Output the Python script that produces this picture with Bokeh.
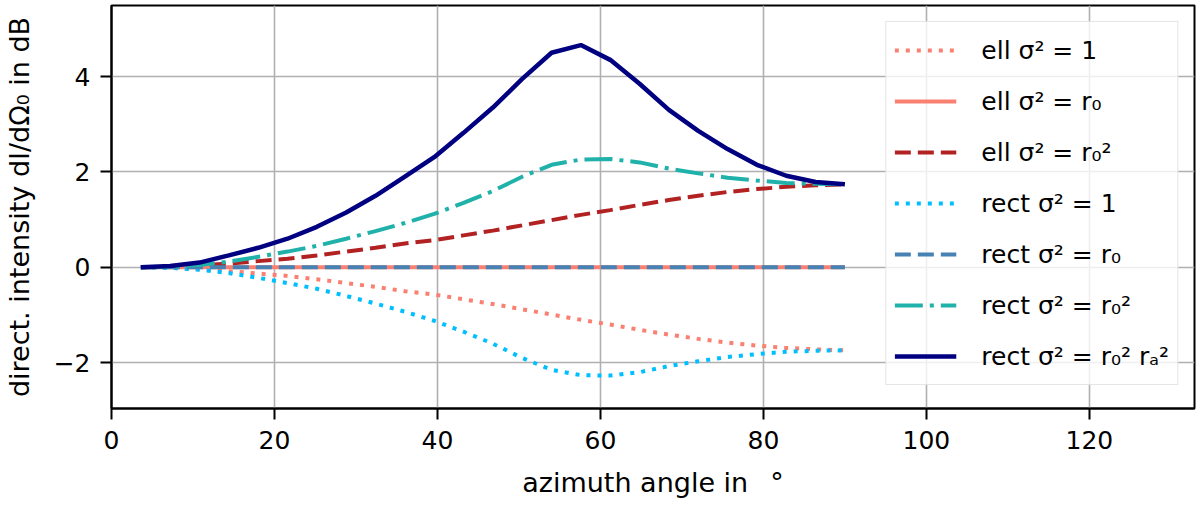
from bokeh.plotting import figure
from bokeh.models import Range1d, FixedTicker, Legend, LegendItem
from bokeh.embed import file_html
from bokeh.resources import INLINE

angle = [3.6, 7.2, 10.8, 14.4, 18.0, 21.6, 25.2, 28.8, 32.4, 36.0, 39.6, 43.2, 46.8,
         50.4, 54.0, 57.6, 61.2, 64.8, 68.4, 72.0, 75.6, 79.2, 82.8, 86.4, 90.0]

ell_one = [0.0, -0.01, -0.04, -0.08, -0.13, -0.18, -0.25, -0.33, -0.41, -0.50, -0.57, -0.67, -0.77,
           -0.88, -0.99, -1.10, -1.20, -1.31, -1.41, -1.50, -1.58, -1.64, -1.69, -1.72, -1.74]
ell_r0 = [0.0] * 25
ell_r0sq = [0.0, 0.01, 0.04, 0.08, 0.13, 0.18, 0.25, 0.33, 0.41, 0.50, 0.57, 0.67, 0.77,
            0.88, 0.99, 1.10, 1.20, 1.31, 1.41, 1.50, 1.58, 1.64, 1.69, 1.72, 1.74]
rect_one = [0.0, -0.01, -0.05, -0.12, -0.22, -0.33, -0.45, -0.60, -0.76, -0.93, -1.12, -1.35, -1.60,
            -1.90, -2.15, -2.26, -2.27, -2.20, -2.07, -1.97, -1.88, -1.82, -1.77, -1.75, -1.74]
rect_r0 = [0.0] * 25
rect_r0sq = [0.0, 0.01, 0.05, 0.12, 0.22, 0.33, 0.45, 0.60, 0.76, 0.93, 1.12, 1.35, 1.60,
             1.90, 2.15, 2.26, 2.27, 2.20, 2.07, 1.97, 1.88, 1.82, 1.77, 1.75, 1.74]
rect_r0ra = [0.0, 0.03, 0.10, 0.25, 0.41, 0.60, 0.85, 1.15, 1.50, 1.90, 2.31, 2.82, 3.35,
             3.95, 4.50, 4.66, 4.35, 3.85, 3.30, 2.86, 2.48, 2.15, 1.92, 1.79, 1.74]

labels = ["ell σ² = 1", "ell σ² = r₀", "ell σ² = r₀²", "rect σ² = 1",
          "rect σ² = r₀", "rect σ² = r₀²", "rect σ² = r₀² rₐ²"]
x_ticks = [0, 20, 40, 60, 80, 100, 120]
y_ticks = [-2, 0, 2, 4]

FONT = "DejaVu Sans"

p = figure(width=1196, height=506, output_backend="svg", toolbar_location=None,
           x_range=Range1d(0, 132.9), y_range=Range1d(-2.96, 5.49),
           min_border_left=111, min_border_right=2, min_border_top=5, min_border_bottom=98)
p.background_fill_color = "white"
p.outline_line_color = "black"
p.outline_line_width = 2

series = [
    (ell_one, "#FA8072", "4 7", 4),
    (ell_r0, "#FA8072", "solid", 4),
    (ell_r0sq, "#B22222", "16 7", 4),
    (rect_one, "#00BFFF", "4 7", 4),
    (rect_r0, "#4682B4", "16 7", 4),
    (rect_r0sq, "#20B2AA", "28 7 4 7", 4),
    (rect_r0ra, "#000080", "solid", 4.5),
]
items = []
for (ys, col, dash, lw), lab in zip(series, labels):
    r = p.line(angle, ys, line_color=col, line_width=lw, line_dash=dash, line_cap="butt")
    items.append(LegendItem(label=lab, renderers=[r]))

for ax in (p.xaxis[0], p.yaxis[0]):
    ax.axis_line_color = "black"
    ax.axis_line_width = 2
    ax.major_tick_line_color = "black"
    ax.major_tick_line_width = 2
    ax.major_tick_out = 11
    ax.major_tick_in = 0
    ax.minor_tick_line_color = None
    ax.major_label_text_font = FONT
    ax.major_label_text_font_size = "25px"
    ax.major_label_text_color = "black"
    ax.axis_label_text_font = FONT
    ax.axis_label_text_font_size = "27px"
    ax.axis_label_text_font_style = "normal"
    ax.axis_label_text_color = "black"

p.xaxis.ticker = FixedTicker(ticks=x_ticks)
p.yaxis.ticker = FixedTicker(ticks=y_ticks)
p.xaxis.major_label_standoff = 11
p.yaxis.major_label_standoff = 10
p.xaxis.axis_label = "azimuth angle in \u2002°"
p.yaxis.axis_label = "direct. intensity dI/dΩ₀ in dB"
p.xaxis.axis_label_standoff = 15
p.yaxis.axis_label_standoff = 16

p.xgrid.ticker = FixedTicker(ticks=x_ticks)
p.ygrid.ticker = FixedTicker(ticks=y_ticks)
p.grid.grid_line_color = "#b0b0b0"
p.grid.grid_line_width = 1.6

legend = Legend(items=items, location="top_right")
legend.margin = 16
legend.padding = 8
legend.spacing = 11
legend.glyph_width = 62
legend.glyph_height = 40
legend.label_standoff = 25
legend.label_text_font = FONT
legend.label_text_font_size = "25px"
legend.label_text_color = "black"
legend.border_line_color = "#cccccc"
legend.border_line_width = 1.5
legend.background_fill_color = "white"
legend.background_fill_alpha = 0.8
p.add_layout(legend)

open("out.html", "w").write(file_html(p, INLINE))
